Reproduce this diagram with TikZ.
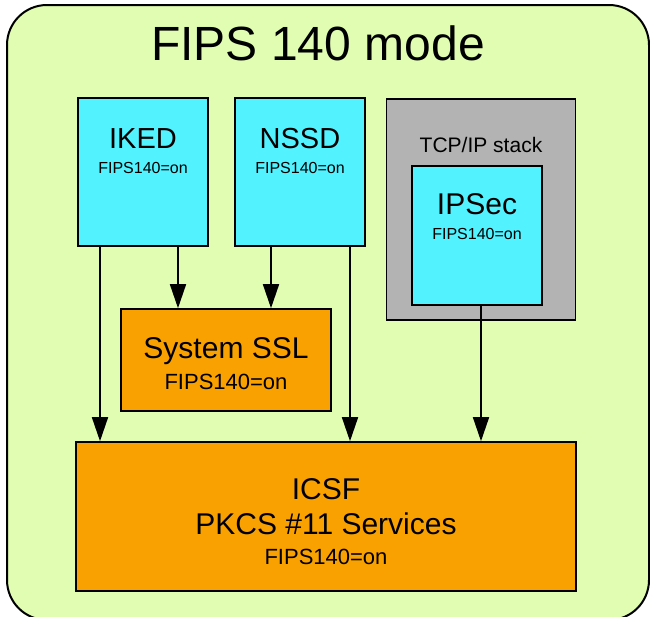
\documentclass[tikz,border=0pt]{standalone}
\usepackage{fontspec}
\setmainfont{Liberation Sans}
\usetikzlibrary{arrows.meta}
\definecolor{bggreen}{HTML}{E1FDB1}
\definecolor{boxcyan}{HTML}{52F2FF}
\definecolor{boxorange}{HTML}{F9A100}
\definecolor{boxgray}{HTML}{B3B3B3}
\begin{document}
\begin{tikzpicture}[x=1pt,y=-1pt,
  box/.style={draw=black,line width=1.6pt,rectangle,inner sep=0pt},
  txt/.style={inner sep=0pt,anchor=base},
  arr/.style={line width=1.6pt,-{Triangle[length=24pt,width=16pt]}}]
\useasboundingbox (0,0) rectangle (650,616);
\begin{scope}
\clip (0,0) rectangle (650,616);
\draw[fill=bggreen,line width=2pt,rounded corners=40pt] (7,5) rectangle (649,620);
\end{scope}
\node[txt,font=\fontsize{48}{50}\selectfont] (title) at (318,60) {FIPS 140 mode};
% boxes
\node[box,fill=boxcyan,minimum width=130pt,minimum height=148pt] (iked) at (143,172) {};
\node[box,fill=boxcyan,minimum width=130pt,minimum height=148pt] (nssd) at (300,172) {};
\node[box,fill=boxgray,minimum width=189pt,minimum height=221pt] (tcp) at (481,209.5) {};
\node[box,fill=boxcyan,minimum width=130pt,minimum height=139pt] (ipsec) at (477,235.5) {};
\node[box,fill=boxorange,minimum width=210pt,minimum height=102pt] (ssl) at (226,360) {};
\node[box,fill=boxorange,minimum width=500pt,minimum height=149pt] (icsf) at (326,516.5) {};
% texts
\node[txt,font=\fontsize{29}{30}\selectfont] (ikedt) at (143,148) {IKED};
\node[txt,font=\fontsize{16}{17}\selectfont] (ikedf) at (143,173) {FIPS140=on};
\node[txt,font=\fontsize{29}{30}\selectfont] (nssdt) at (300,148) {NSSD};
\node[txt,font=\fontsize{16}{17}\selectfont] (nssdf) at (300,173) {FIPS140=on};
\node[txt,font=\fontsize{21}{22}\selectfont] (tcpt) at (481,152) {TCP/IP stack};
\node[txt,font=\fontsize{30}{31}\selectfont] (ipsect) at (477,214) {IPSec};
\node[txt,font=\fontsize{16}{17}\selectfont] (ipsecf) at (477,239) {FIPS140=on};
\node[txt,font=\fontsize{30}{31}\selectfont] (sslt) at (226,358) {System SSL};
\node[txt,font=\fontsize{22}{23}\selectfont] (sslf) at (226,389) {FIPS140=on};
\node[txt,font=\fontsize{30}{31}\selectfont] (icsft) at (326,499) {ICSF};
\node[txt,font=\fontsize{30}{31}\selectfont] (pkcs) at (326,534) {PKCS \#11 Services};
\node[txt,font=\fontsize{22}{23}\selectfont] (icsff) at (326,564) {FIPS140=on};
% arrow columns
\coordinate (c1) at (100,0);
\coordinate (c2) at (178,0);
\coordinate (c3) at (271,0);
\coordinate (c4) at (350,0);
\coordinate (c5) at (481,0);
\draw[arr] (iked.south -| c1) -- (icsf.north -| c1);
\draw[arr] (iked.south -| c2) -- (ssl.north -| c2);
\draw[arr] (nssd.south -| c3) -- (ssl.north -| c3);
\draw[arr] (nssd.south -| c4) -- (icsf.north -| c4);
\draw[arr] (ipsec.south -| c5) -- (icsf.north -| c5);
\end{tikzpicture}
\end{document}
